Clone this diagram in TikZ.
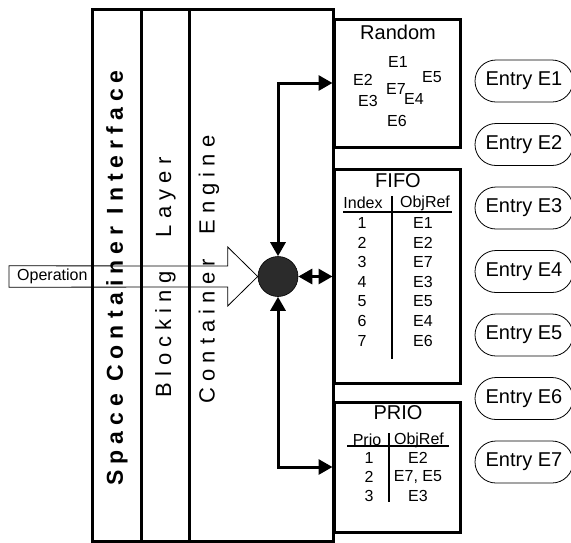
\documentclass[tikz,border=0pt]{standalone}
\usepackage{fontspec}
\setmainfont{Liberation Sans}
\usetikzlibrary{arrows.meta,positioning,calc,shapes.misc}
\definecolor{hubgray}{HTML}{2B2B2B}

\begin{document}
\begin{tikzpicture}[
  x=1pt, y=-1pt,
  >={Triangle[length=14pt,width=15pt]},
  every node/.style={inner sep=0pt},
  layer/.style={draw, line width=3pt, minimum height=532pt},
  colname/.style={rotate=90, font=\fontsize{22}{26}\selectfont\addfontfeature{LetterSpace=28}},
  colbold/.style={rotate=90, font=\fontsize{23}{27}\selectfont\bfseries\addfontfeature{LetterSpace=26}},
  queue/.style={draw, line width=3pt, minimum width=126pt},
  qtitle/.style={font=\fontsize{20}{24}\selectfont},
  cell/.style={font=\fontsize{16}{19}\selectfont},
  rule/.style={line width=1.8pt},
  link/.style={<->, line width=3pt},
  entry/.style={draw, rounded rectangle, line width=0.8pt, minimum width=98pt, minimum height=42pt, font=\fontsize{20}{24}\selectfont}
]
\useasboundingbox (0,0) rectangle (571,542);
\node[layer, minimum width=49pt] (iface) at (116.5,275) {};
\node[layer, minimum width=48pt] (block) at (165,275) {};
\node[layer, minimum width=144pt] (engine) at (261,275) {};
\node[colbold] (ifacetxt) at (117,278) {Space Container Interface};
\node[colname] (blocktxt) at (165.5,277.5) {Blocking\hspace{22pt} Layer};
\node[colname] (enginetxt) at (209,269.5) {Container\hspace{12pt} Engine};

\node[circle, draw, fill=hubgray, line width=0.6pt, minimum size=40pt] (hub) at (278,276.5) {};

\node[queue, minimum height=128pt] (rnd) at (397,83) {};
\node[queue, minimum height=214pt] (fifo) at (397,276) {};
\node[queue, minimum height=130pt] (prio) at (397,467) {};

\draw[link] (hub.north) |- (rnd.west);
\draw[link] (hub.east) -- (hub.east -| fifo.west);
\draw[link] (hub.south) |- (prio.west);

\node[cell, anchor=west, minimum height=21pt, inner xsep=8pt] (op) at (9,276.5) {Operation};
\draw[line width=0.8pt] (op.north west) -- ($(hub.west)+(-30,-10.5)$) -- ($(hub.west)+(-30,-29.5)$)
  -- (hub.west) -- ($(hub.west)+(-30,29.5)$) -- ($(hub.west)+(-30,10.5)$) -- (op.south west) -- cycle;

\node[qtitle] (rndt) at (398,32) {Random};
\node[cell] (re1) at (398,62) {E1};
\node[cell] (re2) at (363,80) {E2};
\node[cell] (re7) at (396,89) {E7};
\node[cell] (re5) at (432,77) {E5};
\node[cell] (re3) at (368,101) {E3};
\node[cell] (re4) at (414,99) {E4};
\node[cell] (re6) at (397,121) {E6};

\node[qtitle] (fifot) at (398,181) {FIFO};
\node[cell] (fifoh1) at (363,203) {Index};
\node[cell] (fifoh2) at (425,203) {ObjRef};
\draw[rule] (343,212) -- (452,212);
\draw[rule] (392,196) -- (392,359);
\foreach \n/\e [count=\k] in {1/E1,2/E2,3/E7,4/E3,5/E5,6/E4,7/E6} {
  \node[cell] (fidx\k) at (362,{223+19.6*(\k-1)}) {\n};
  \node[cell] (fref\k) at (423,{223+19.6*(\k-1)}) {\e};
}

\node[qtitle] (priot) at (398,413) {PRIO};
\node[cell] (prioh1) at (367,440) {Prio};
\node[cell] (prioh2) at (419,440) {ObjRef};
\draw[rule] (347,446) -- (449,446);
\draw[rule] (389,433) -- (389,502);
\foreach \n/\e [count=\k] in {1/E2,2/{E7, E5},3/E3} {
  \node[cell] (pidx\k) at (369,{458+19*(\k-1)}) {\n};
  \node[cell] (pref\k) at (418,{458+19*(\k-1)}) {\e};
}

\foreach \i in {1,...,7}
  \node[entry] (ent\i) at (524,{81+63.5*(\i-1)}) {Entry E\i};
\end{tikzpicture}
\end{document}
